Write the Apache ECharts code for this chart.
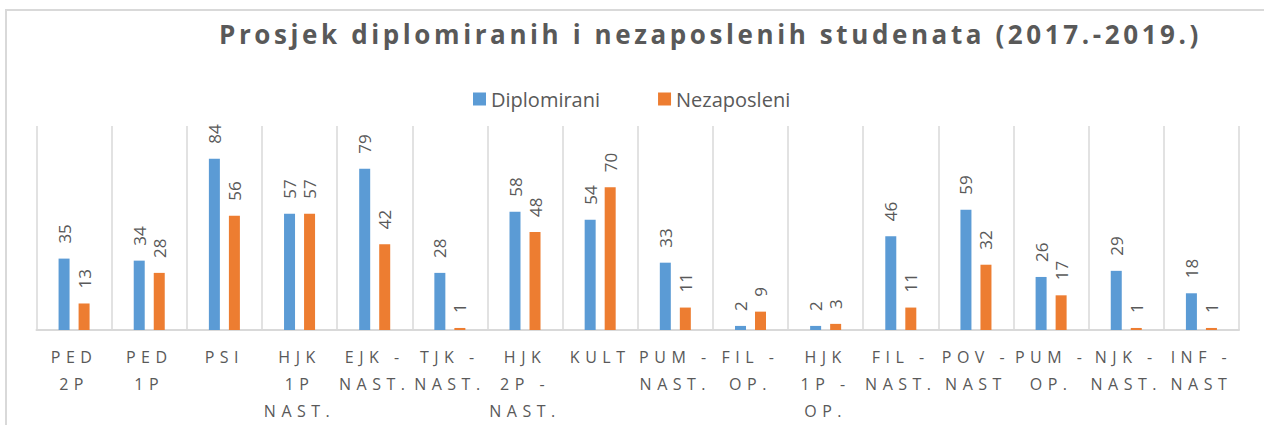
<!DOCTYPE html>
<html>
<head>
<meta charset="utf-8">
<script src="https://cdn.jsdelivr.net/npm/echarts@6/dist/echarts.min.js"></script>
<style>
  html, body { margin: 0; padding: 0; background: #fff; }
  #main { width: 1264px; height: 425px; }
  /* razmak slova kao u Excelu */
  #main text[style*="bold"] { letter-spacing: 3.6px; }
  #main text[style*="16px"] { letter-spacing: 5.5px; }
</style>
</head>
<body>
<div id="main"></div>
<script>
// podaci
const categories = [
  'PED\n2P', 'PED\n1P', 'PSI', 'HJK\n1P\nNAST.', 'EJK -\nNAST.', 'TJK -\nNAST.',
  'HJK\n2P -\nNAST.', 'KULT', 'PUM -\nNAST.', 'FIL -\nOP.', 'HJK\n1P -\nOP.',
  'FIL -\nNAST.', 'POV -\nNAST', 'PUM -\nOP.', 'NJK -\nNAST.', 'INF -\nNAST'
]
const diplomirani = [35, 34, 84, 57, 79, 28, 58, 54, 33, 2, 2, 46, 59, 26, 29, 18]
const nezaposleni = [13, 28, 56, 57, 42, 1, 48, 70, 11, 9, 3, 11, 32, 17, 1, 1]

const textColor = '#595959'
const lineColor = '#d9d9d9'
const font = 'Open Sans'

const chart = echarts.init(document.getElementById('main'), null, { renderer: 'svg' })

const valueLabel = {
  show: true,
  position: 'top',
  rotate: 90,
  align: 'left',
  verticalAlign: 'middle',
  distance: 15,
  color: textColor,
  fontFamily: font,
  fontSize: 17
}

const option = {
  animation: false,
  backgroundColor: '#fff',
  title: {
    text: 'Prosjek diplomiranih i nezaposlenih studenata (2017.-2019.)',
    left: 219,
    top: 21,
    padding: 0,
    textStyle: {
      color: textColor,
      fontFamily: font,
      fontWeight: 'bold',
      fontSize: 26
    }
  },
  legend: {
    left: 473,
    top: 89,
    padding: 0,
    itemWidth: 13,
    itemHeight: 13,
    itemGap: 58,
    icon: 'rect',
    textStyle: { color: textColor, fontFamily: font, fontSize: 20 },
    data: ['Diplomirani', 'Nezaposleni']
  },
  graphic: [{
    type: 'rect',
    shape: { x: 6, y: 10, width: 1400, height: 600 },
    style: { fill: 'none', stroke: lineColor, lineWidth: 2 },
    silent: true,
    z: -10
  }],
  grid: { left: 36.5, right: 25, top: 126, bottom: 95 },
  xAxis: {
    type: 'category',
    data: categories,
    axisTick: { show: false },
    axisLine: { lineStyle: { color: lineColor, width: 2 } },
    splitLine: {
      show: true,
      showMinLine: true,
      showMaxLine: true,
      lineStyle: { color: lineColor, width: 1.5 }
    },
    axisLabel: {
      interval: 0,
      margin: 13,
      color: textColor,
      fontFamily: font,
      fontSize: 16,
      lineHeight: 27
    }
  },
  yAxis: {
    type: 'value',
    min: 0,
    max: 100,
    show: false,
    splitLine: { show: false }
  },
  series: [
    {
      name: 'Diplomirani',
      type: 'bar',
      barWidth: 11,
      barGap: '82%',
      itemStyle: { color: '#5b9bd5' },
      label: valueLabel,
      data: diplomirani
    },
    {
      name: 'Nezaposleni',
      type: 'bar',
      barWidth: 11,
      barGap: '82%',
      itemStyle: { color: '#ed7d31' },
      label: valueLabel,
      data: nezaposleni
    }
  ]
}

chart.setOption(option)
</script>
</body>
</html>
